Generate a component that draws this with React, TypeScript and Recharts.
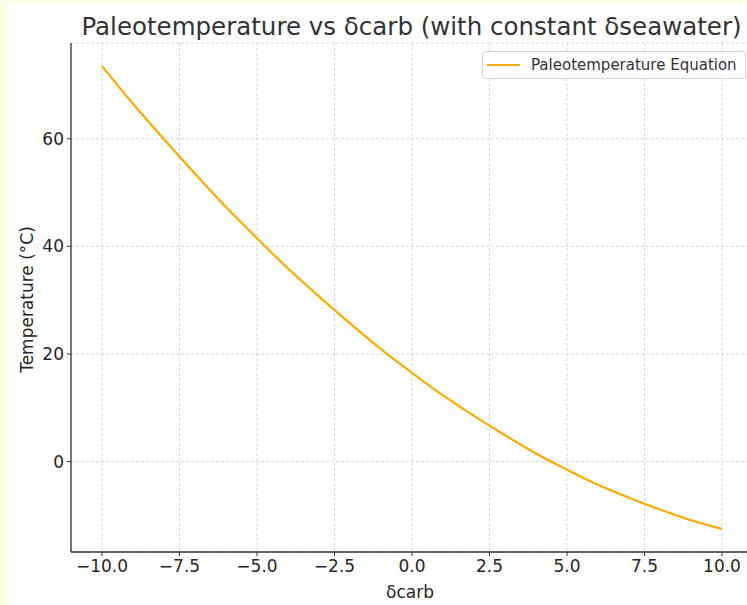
import { LineChart, Line, XAxis, YAxis, CartesianGrid, Legend } from "recharts";

// δcarb sample points and the temperature (°C)
const deltaCarb = [-10, -9, -8, -7, -6, -5, -4, -3, -2, -1, 0, 1, 2, 3, 4, 5, 6, 7, 8, 9, 10];
const temperature = [
  73.5, 66.5, 59.9, 53.5, 47.3, 41.5, 35.9, 30.7, 25.7, 20.9, 16.5, 12.3, 8.5, 4.9, 1.5, -1.5, -4.3, -6.7,
  -8.9, -10.9, -12.5,
];

const xTicks = [-10, -7.5, -5, -2.5, 0, 2.5, 5, 7.5, 10];
const yTicks = [0, 20, 40, 60];

const seriesName = "Paleotemperature Equation";
const title = "Paleotemperature vs δcarb (with constant δseawater)";
const xLabel = "δcarb";
const yLabel = "Temperature (°C)";

const chartData = deltaCarb.map((d, i) => ({ d, t: temperature[i] }));

const FONT = "'DejaVu Sans', sans-serif";
const LINE_COLOR = "#ffaa00";

const fmtX = (v: number) => v.toFixed(1).replace("-", "\u2212");
const fmtY = (v: number) => String(v).replace("-", "\u2212");

const LegendBox = () => (
  <div
    style={{
      boxSizing: "border-box",
      width: 264,
      height: 28,
      border: "1px solid #d4d4d4",
      borderRadius: 4,
      background: "rgba(255,255,255,0.85)",
      display: "flex",
      alignItems: "center",
      paddingLeft: 4,
      fontFamily: FONT,
      fontSize: 15,
      color: "#333",
      whiteSpace: "nowrap",
    }}
  >
    <span style={{ display: "inline-block", width: 33, height: 2, background: LINE_COLOR, marginRight: 11 }} />
    <span>{seriesName}</span>
  </div>
);

export default function App() {
  return (
    <div
      style={{
        position: "fixed",
        left: 0,
        top: 0,
        width: 747,
        height: 605,
        background: "#ffffdc",
        overflow: "hidden",
        fontFamily: FONT,
      }}
    >
      <div style={{ position: "absolute", left: 0, top: 0, width: 747, height: 5, background: "#fdfdf0" }} />
      <div style={{ position: "absolute", left: 7, top: 5, width: 740, height: 600, background: "#fff", overflow: "hidden" }}>
        <LineChart width={760} height={600} data={chartData} margin={{ top: 38, right: 14, bottom: 13, left: 14 }}>
          <CartesianGrid stroke="#cccccc" strokeDasharray="3 2" strokeWidth={0.8} />
          <XAxis
            dataKey="d"
            type="number"
            domain={[-11, 11]}
            ticks={xTicks}
            tickFormatter={fmtX}
            height={40}
            tickSize={4}
            tickMargin={4}
            tick={{ fontSize: 17, fill: "#262626", fontFamily: FONT }}
            axisLine={{ stroke: "#333", strokeWidth: 1.3 }}
            tickLine={{ stroke: "#333", strokeWidth: 1 }}
            allowDataOverflow
          />
          <YAxis
            type="number"
            domain={[-16.8, 77.8]}
            ticks={yTicks}
            tickFormatter={fmtY}
            width={50}
            tickSize={4}
            tickMargin={3}
            tick={{ fontSize: 17, fill: "#262626", fontFamily: FONT }}
            axisLine={{ stroke: "#333", strokeWidth: 1.3 }}
            tickLine={{ stroke: "#333", strokeWidth: 1 }}
            allowDataOverflow
          />
          <Legend
            layout="horizontal"
            verticalAlign="middle"
            align="center"
            wrapperStyle={{ top: 46, left: 475, width: 264, height: 28 }}
            content={() => <LegendBox />}
          />
          <Line
            type="monotone"
            dataKey="t"
            name={seriesName}
            stroke={LINE_COLOR}
            strokeWidth={2.2}
            dot={false}
            activeDot={false}
            isAnimationActive={false}
          />
        </LineChart>
        <svg
          width={740}
          height={600}
          style={{ position: "absolute", left: 0, top: 0, pointerEvents: "none" }}
        >
          <text x={404.5} y={30} textAnchor="middle" fontSize={24.5} fill="#333" fontFamily={FONT}>
            {title}
          </text>
          <text x={403} y={593} textAnchor="middle" fontSize={17} fill="#262626" fontFamily={FONT}>
            {xLabel}
          </text>
          <text
            transform="translate(26, 294.5) rotate(-90)"
            textAnchor="middle"
            fontSize={17}
            fill="#262626"
            fontFamily={FONT}
          >
            {yLabel}
          </text>
        </svg>
      </div>
    </div>
  );
}
